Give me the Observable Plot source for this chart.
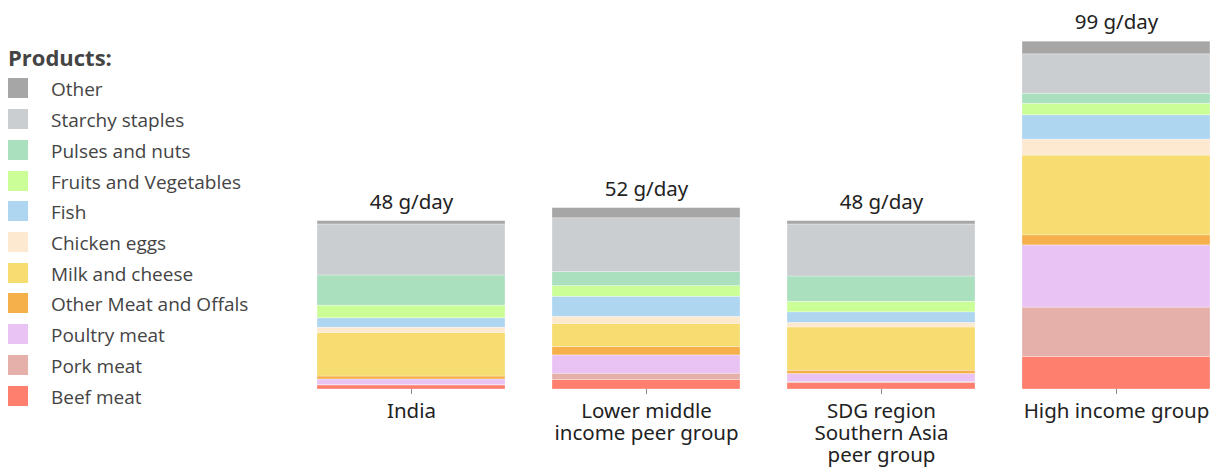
<!DOCTYPE html>
<html>
<head>
<meta charset="utf-8">
<script src="https://cdn.jsdelivr.net/npm/d3@7"></script>
<script src="https://cdn.jsdelivr.net/npm/@observablehq/plot@0.6"></script>
<style>
  html, body { margin: 0; padding: 0; background: #fff; }
  #wrap { position: relative; width: 1216px; height: 467px; overflow: hidden; }
  #chart { position: absolute; left: 0; top: 0; }
  #legend { position: absolute; left: 8px; top: 0; font-family: "Open Sans", sans-serif; color: #444; }
  #legend .title { position: absolute; left: 0; top: 42px; font-weight: bold; font-size: 22px; white-space: nowrap; }
  #legend .item { position: absolute; left: 0; height: 20px; white-space: nowrap; font-size: 19px; line-height: 20px; }
  #legend .sw { position: absolute; left: 0; top: 0; width: 20px; height: 20px; }
  #legend .lab { position: absolute; left: 43px; top: 1px; }
</style>
</head>
<body>
<div id="wrap">
  <div id="chart"></div>
  <div id="legend"></div>
</div>
<script>
// Groups (x categories) and their axis labels
const groups = ["India", "Lower middle income peer group", "SDG region Southern Asia peer group", "High income group"];
const groupLabels = ["India", "Lower middle\nincome peer group", "SDG region\nSouthern Asia\npeer group", "High income group"];
const totalLabels = ["48 g/day", "52 g/day", "48 g/day", "99 g/day"];

// Products, bottom of stack first
const products = ["Beef meat", "Pork meat", "Poultry meat", "Other Meat and Offals", "Milk and cheese", "Chicken eggs", "Fish", "Fruits and Vegetables", "Pulses and nuts", "Starchy staples", "Other"];
const colors = ["#ff7f6f", "#e5b0aa", "#e8c3f3", "#f5b04b", "#f7dc70", "#fce9d0", "#aed6f0", "#cbfe96", "#abe0bf", "#cbced1", "#a6a6a6"];

// Values in g/day per group, same order as products
const india      = [1.15, 0.1, 1.6, 0.85, 12.4, 1.5, 2.65, 3.6, 8.6, 14.5, 0.95];
const lowerMid   = [2.7, 1.8, 5.2, 2.4, 6.6, 2.0, 5.7, 3.0, 4.0, 15.3, 2.9];
const sdgSAsia   = [1.8, 0.3, 2.3, 0.95, 12.3, 1.3, 3.0, 3.0, 7.2, 14.8, 0.95];
const highIncome = [9.3, 14.0, 17.7, 2.85, 22.7, 4.55, 6.9, 3.3, 2.85, 11.2, 3.6];

const series = [india, lowerMid, sdgSAsia, highIncome];

const rows = [];
groups.forEach((g, gi) => {
  products.forEach((p, pi) => rows.push({group: g, product: p, value: series[gi][pi]}));
});
const totals = groups.map((g, gi) => ({group: g, total: d3.sum(series[gi]), label: totalLabels[gi]}));

const font = "'Noto Sans', sans-serif";

const chart = Plot.plot({
  width: 1216,
  height: 467,
  marginLeft: 316,
  marginRight: 5,
  marginTop: 37.5,
  marginBottom: 78,
  style: {fontFamily: font, background: "white"},
  x: {domain: groups, paddingInner: 0.2, paddingOuter: 0, axis: null},
  y: {domain: [0, 100], axis: null},
  color: {domain: products, range: colors},
  marks: [
    Plot.barY(rows, {x: "group", y: "value", fill: "product", stroke: "white", strokeWidth: 0.6, strokeOpacity: 0.5}),
    Plot.text(totals, {x: "group", y: "total", text: "label", dy: -19, fontSize: 20.5, fill: "#222"}),
    Plot.axisX({
      label: null,
      tickFormat: d => groupLabels[groups.indexOf(d)],
      tickSize: 5,
      tickPadding: 8,
      fontSize: 20.5,
      lineHeight: 1.08,
      stroke: "#888",
      color: "#222"
    })
  ]
});
document.getElementById("chart").appendChild(chart);

// Legend (top to bottom: reverse of stacking order)
const legend = document.getElementById("legend");
const t = document.createElement("div");
t.className = "title";
t.textContent = "Products:";
legend.appendChild(t);
const legendOrder = products.slice().reverse();
const legendColors = colors.slice().reverse();
legendOrder.forEach((p, i) => {
  const it = document.createElement("div");
  it.className = "item";
  it.style.top = (78.3 + i * 30.74) + "px";
  const sw = document.createElement("div");
  sw.className = "sw";
  sw.style.background = legendColors[i];
  const lab = document.createElement("div");
  lab.className = "lab";
  lab.textContent = p;
  it.appendChild(sw);
  it.appendChild(lab);
  legend.appendChild(it);
});
</script>
</body>
</html>
